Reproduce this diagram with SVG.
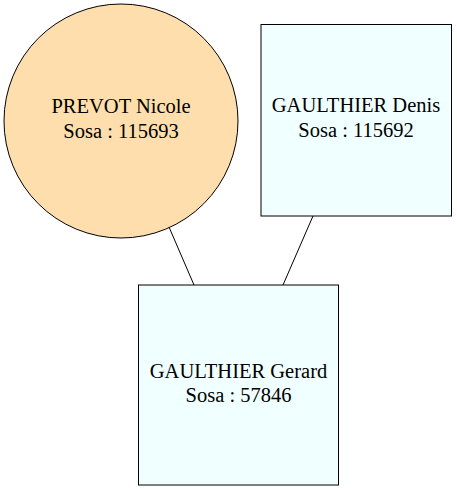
<svg xmlns="http://www.w3.org/2000/svg" width="457" height="491" viewBox="0 0 457 491">
<style>
.n{stroke:#000;stroke-width:1}
.t{font-family:"Liberation Serif","Times New Roman",serif;font-size:20.5px;fill:#000;text-anchor:middle}
.e{stroke:#000;stroke-width:1;fill:none}
</style>
<rect x="0" y="0" width="457" height="491" fill="#fff"/>
<g id="edges">
<line class="e" x1="169" y1="227" x2="194" y2="285"/>
<line class="e" x1="313" y1="216" x2="283" y2="285"/>
</g>
<g id="prevot">
<circle class="n" cx="121" cy="121" r="117" fill="#ffdead"/>
<text class="t" x="121" y="113">PREVOT Nicole</text>
<text class="t" x="121" y="138">Sosa : 115693</text>
</g>
<g id="denis">
<rect class="n" x="261" y="24.5" width="190.5" height="191.5" fill="#f0ffff"/>
<text class="t" x="356" y="112">GAULTHIER Denis</text>
<text class="t" x="356" y="137">Sosa : 115692</text>
</g>
<g id="gerard">
<rect class="n" x="138.5" y="285" width="200" height="200" fill="#f0ffff"/>
<text class="t" x="238.5" y="378">GAULTHIER Gerard</text>
<text class="t" x="238.5" y="402">Sosa : 57846</text>
</g>
</svg>
